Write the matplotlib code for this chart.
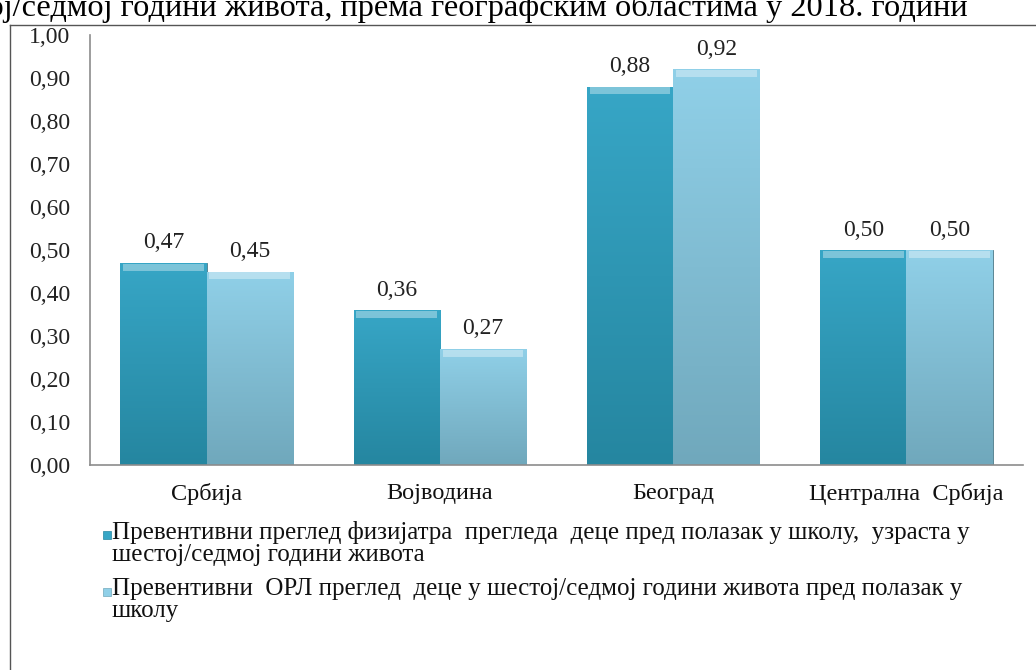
import numpy as np
import matplotlib.pyplot as plt
from matplotlib.colors import LinearSegmentedColormap
from matplotlib.patches import Rectangle
from matplotlib.lines import Line2D

plt.rcParams['font.family'] = ['Liberation Serif', 'DejaVu Serif']

# --- подаци ---
regions = ['Србија', 'Војводина', 'Београд', 'Централна  Србија']
fizijatar = [0.47, 0.36, 0.88, 0.50]
orl = [0.45, 0.27, 0.92, 0.50]
series_names = [
    'Превентивни преглед физијатра  прегледа  деце пред полазак у школу,  узраста у\nшестој/седмој години живота',
    'Превентивни  ОРЛ преглед  деце у шестој/седмој години живота пред полазак у\nшколу',
]
yticks = [0.0, 0.1, 0.2, 0.3, 0.4, 0.5, 0.6, 0.7, 0.8, 0.9, 1.0]

# боје: (горе, доле)
dark = ('#37a6c6', '#2586a0')
light = ('#90d0e8', '#70a8bc')

fig = plt.figure(figsize=(10.36, 6.70), dpi=100)
ax = fig.add_axes([90 / 1036, 1 - 465 / 670, (1023 - 90) / 1036, 430 / 670])

x = np.arange(len(regions))
w = 0.37


def gradient_bars(xpos, vals, cols):
    cmap = LinearSegmentedColormap.from_list('g', [cols[1], cols[0]])
    bars = ax.bar(xpos, vals, w, color=cols[0], edgecolor='#5b8795', linewidth=0.7, zorder=2)
    grad = np.linspace(0, 1, 256).reshape(-1, 1)
    for b in bars:
        x0, y0 = b.get_x(), b.get_y()
        bw, bh = b.get_width(), b.get_height()
        im = ax.imshow(grad, cmap=cmap, origin='lower', aspect='auto',
                       extent=[x0, x0 + bw, y0, y0 + bh], zorder=2.1)
        im.set_clip_path(b)
        # светла ивица на врху
        ax.add_patch(Rectangle((x0 + 0.012, y0 + bh - 0.018), bw - 0.024, 0.016,
                               facecolor='white', alpha=0.35, linewidth=0, zorder=2.2))
        ax.text(x0 + bw / 2, y0 + bh + 0.022, f'{bh:.2f}'.replace('.', ','),
                ha='center', va='bottom', fontsize=17, color='#222222')
    return bars


gradient_bars(x - w / 2, fizijatar, dark)
gradient_bars(x + w / 2, orl, light)

ax.set_xlim(-0.5, len(regions) - 0.5)
ax.set_ylim(0, 1.0)
ax.set_yticks(yticks)
ax.set_yticklabels([f'{t:.2f}'.replace('.', ',') for t in yticks], fontsize=17, color='#222222')
ax.set_xticks(x)
ax.set_xticklabels(regions, fontsize=17.5, color='#111111')
ax.tick_params(axis='both', length=0)
ax.tick_params(axis='y', pad=14)
ax.tick_params(axis='x', pad=13)
for s in ['top', 'right']:
    ax.spines[s].set_visible(False)
for s in ['left', 'bottom']:
    ax.spines[s].set_color('#8c8c8c')
    ax.spines[s].set_linewidth(1.2)

# легенда
leg_y = [1 - 539 / 670, 1 - 596 / 670]
for yy, name, cols in zip(leg_y, series_names, [dark, light]):
    fig.add_artist(Rectangle((103 / 1036, yy), 8 / 1036, 8 / 670,
                             facecolor=cols[0], edgecolor=cols[1], linewidth=0.5,
                             transform=fig.transFigure))
    fig.text(112 / 1036, yy + 18 / 670, name, ha='left', va='top', fontsize=18,
             color='#111111', linespacing=1.02)

# оквир
fig.add_artist(Line2D([10 / 1036, 10 / 1036], [0, 1 - 25 / 670], color='#555555',
                      linewidth=1.0, transform=fig.transFigure))
fig.add_artist(Line2D([10 / 1036, 1.0], [1 - 25 / 670, 1 - 25 / 670], color='#555555',
                      linewidth=1.0, transform=fig.transFigure))

# наслов (у оригиналу одсечен уз ивицу слике)
fig.text(968 / 1036, 1 - 16 / 670,
         'узраста у шестој/седмој години живота, према географским областима у 2018. години',
         ha='right', va='baseline', fontsize=23.3, color='#000000')

fig.savefig('out.png', dpi=100)
